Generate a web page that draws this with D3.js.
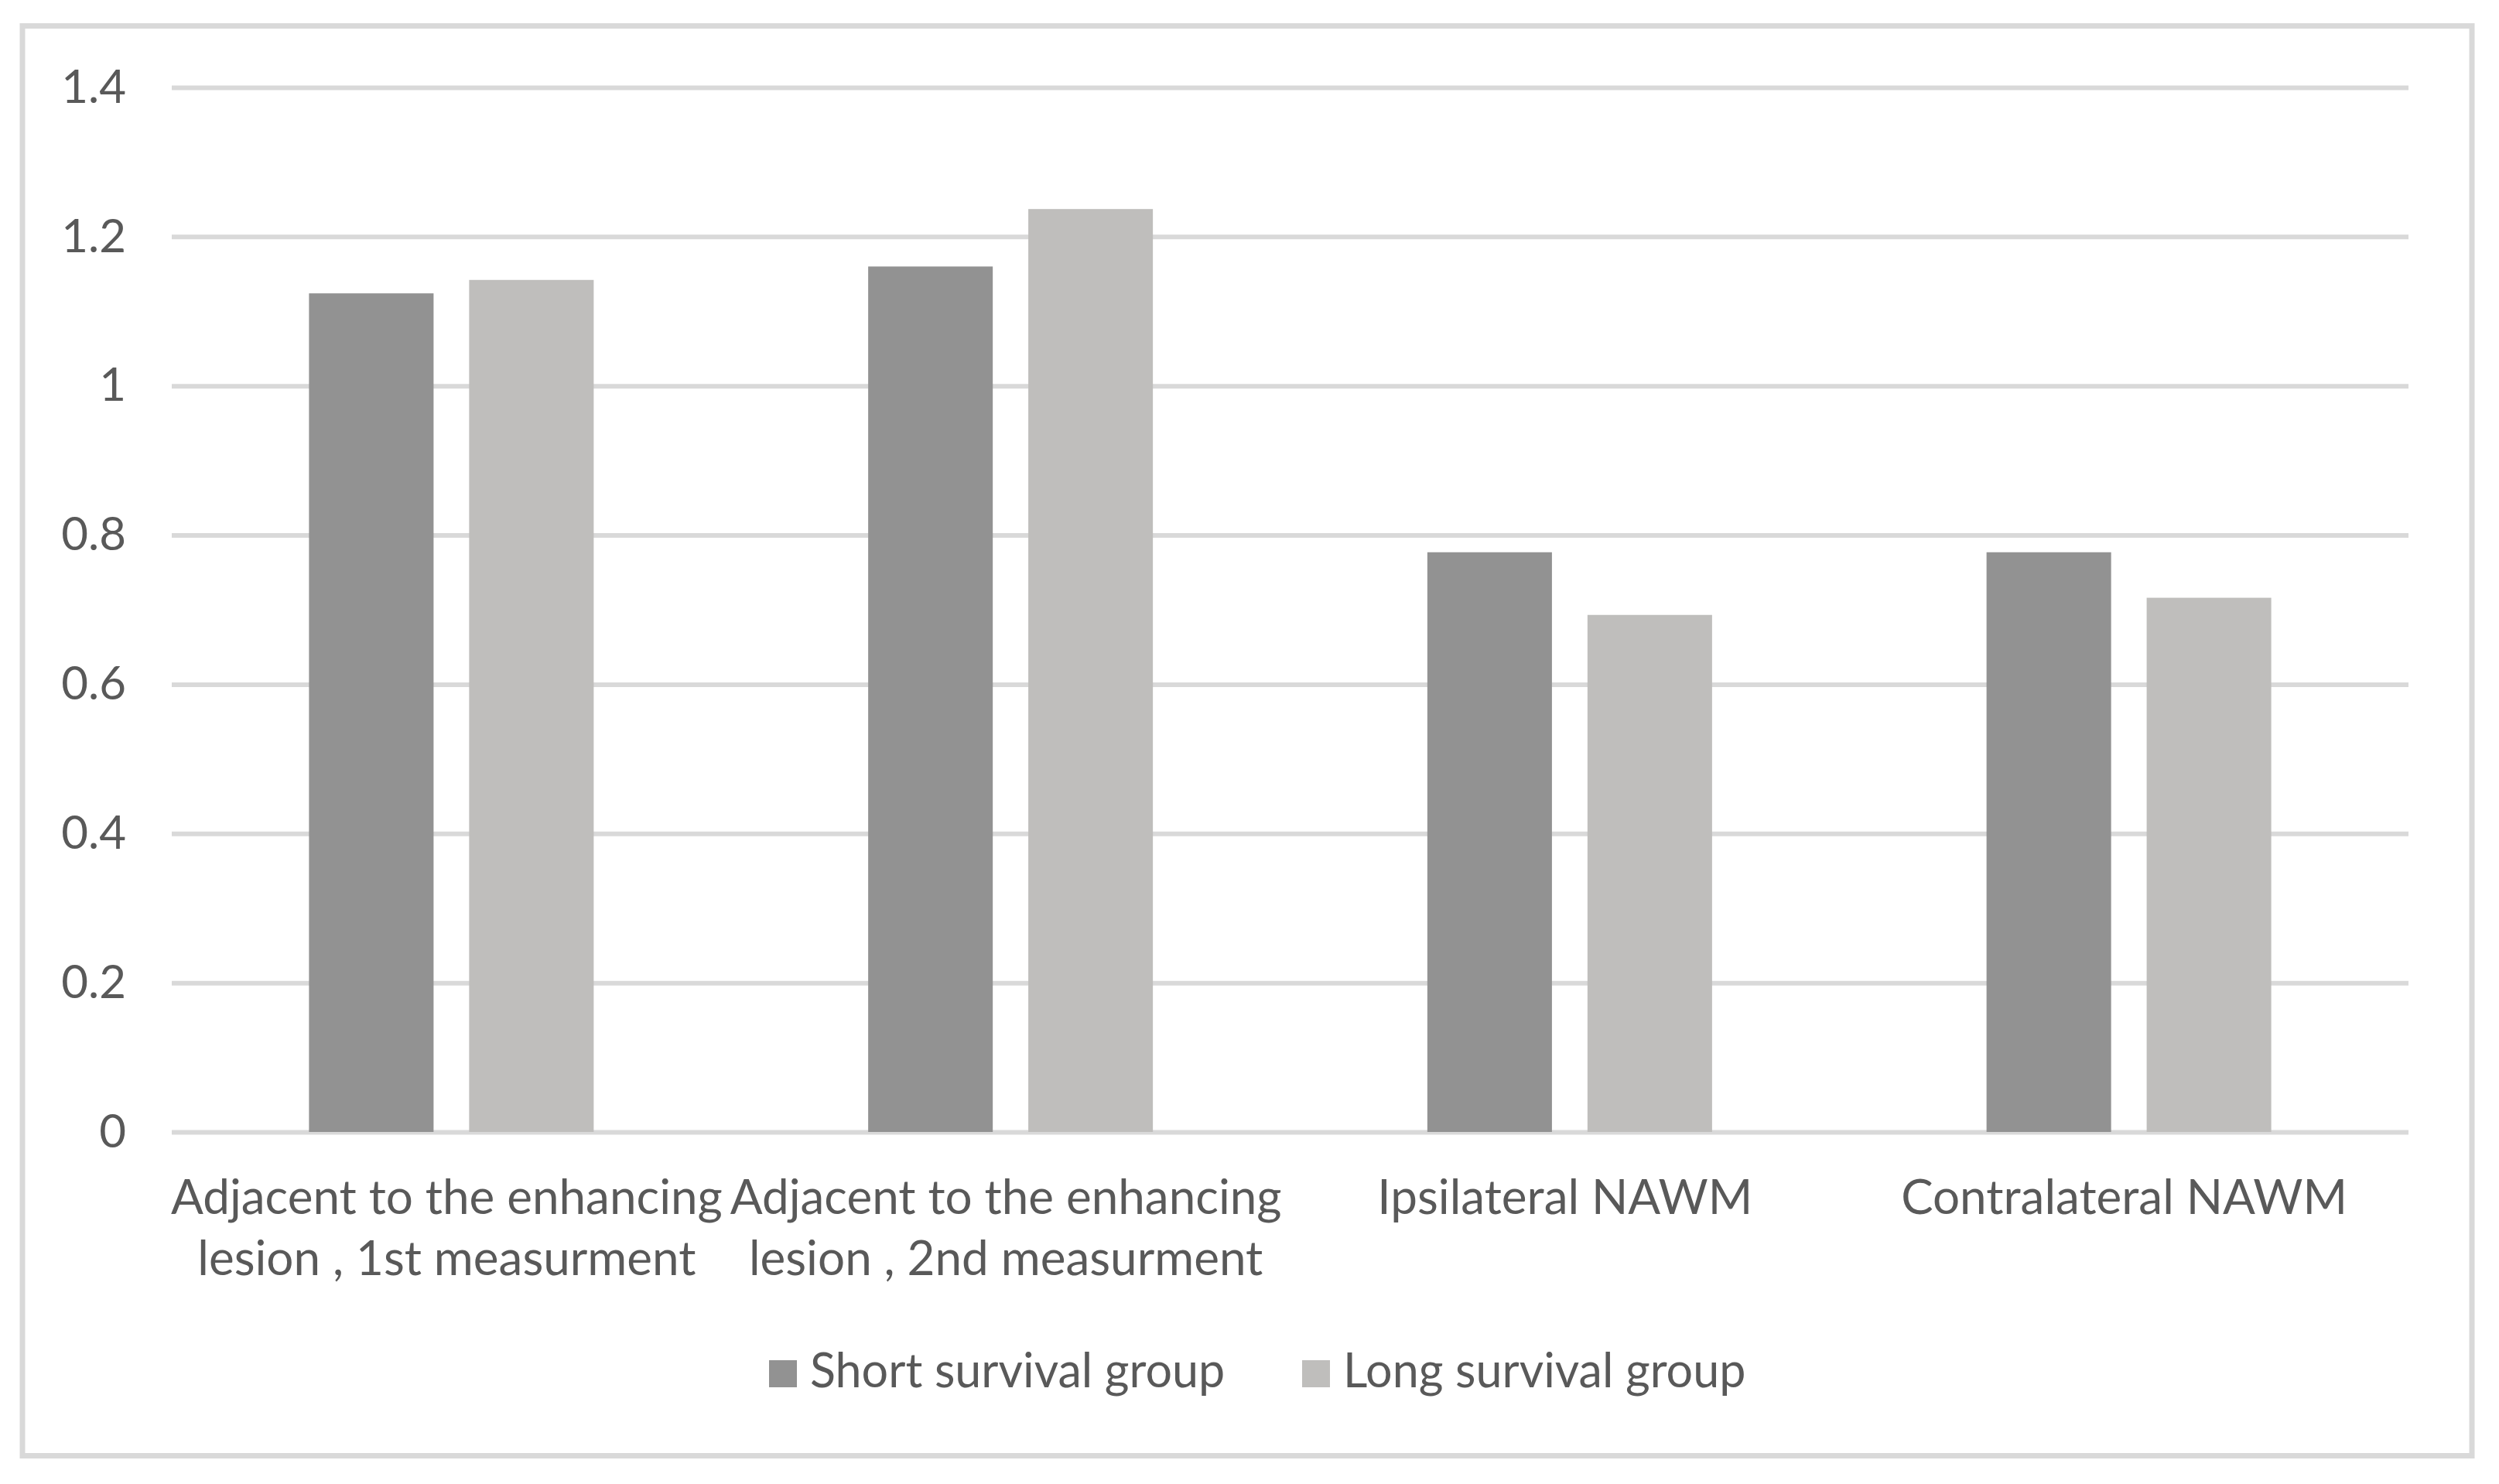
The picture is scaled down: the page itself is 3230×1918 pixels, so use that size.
<!DOCTYPE html>
<html>
<head>
<meta charset="utf-8">
<script src="https://cdn.jsdelivr.net/npm/d3@7"></script>
<style>
  html, body { margin: 0; padding: 0; background: #fff; }
  svg text { font-family: Lato, "Open Sans", sans-serif; fill: #595959; }
</style>
</head>
<body>
<svg id="chart" width="3230" height="1918"></svg>
<script>
// data
const categories = ["adj1", "adj2", "ipsi", "contra"];
const categoryLabels = [
  ["Adjacent to the enhancing", "lesion , 1st measurment"],
  ["Adjacent to the enhancing", "lesion , 2nd measurment"],
  ["Ipsilateral NAWM"],
  ["Contralateral NAWM"]
];
const seriesNames = ["Short survival group", "Long survival group"];
const shortSurvival = [1.124, 1.160, 0.777, 0.777];
const longSurvival = [1.142, 1.237, 0.693, 0.716];
const yTicks = [0, 0.2, 0.4, 0.6, 0.8, 1, 1.2, 1.4];
const yTickLabels = ["0", "0.2", "0.4", "0.6", "0.8", "1", "1.2", "1.4"];
const colors = ["#929292", "#bfbebc"];

const svg = d3.select("#chart");
const plot = { left: 222, right: 3113, top: 113, bottom: 1463 };

// outer frame
svg.append("rect")
  .attr("x", 29).attr("y", 33.5)
  .attr("width", 3166).attr("height", 1848)
  .attr("fill", "#fff")
  .attr("stroke", "#d9d9d9")
  .attr("stroke-width", 7);

const x0 = d3.scaleBand().domain(categories).range([plot.left, plot.right]).padding(0);
const x1 = d3.scaleBand().domain(seriesNames).range([0, x0.bandwidth()])
  .paddingInner(0.222).paddingOuter(0.857);
const y = d3.scaleLinear().domain([0, 1.4]).range([plot.bottom, plot.top]);

// gridlines + y labels
const yAxis = svg.append("g")
  .attr("transform", `translate(${plot.left},0)`)
  .call(d3.axisLeft(y)
    .tickValues(yTicks)
    .tickSize(-(plot.right - plot.left))
    .tickPadding(59)
    .tickFormat((d, i) => yTickLabels[i]));
yAxis.select(".domain").remove();
yAxis.selectAll(".tick line").attr("stroke", "#d9d9d9").attr("stroke-width", 6);
yAxis.selectAll(".tick text")
  .attr("font-size", 60)
  .attr("fill", "#595959")
  .style("font-family", "Lato, 'Open Sans', sans-serif");

// bars
const rows = categories.map((c, i) => ({ cat: c, vals: [shortSurvival[i], longSurvival[i]] }));
const grp = svg.append("g").selectAll("g")
  .data(rows).enter().append("g")
  .attr("transform", d => `translate(${x0(d.cat)},0)`);

grp.selectAll("rect")
  .data(d => d.vals.map((v, j) => ({ name: seriesNames[j], v, j })))
  .enter().append("rect")
  .attr("x", d => x1(d.name))
  .attr("width", x1.bandwidth())
  .attr("y", d => y(d.v))
  .attr("height", d => y(0) - y(d.v))
  .attr("fill", d => colors[d.j]);

// category labels
const lab = svg.append("g").selectAll("text")
  .data(categories).enter().append("text")
  .attr("x", d => x0(d) + x0.bandwidth() / 2 - 6)
  .attr("y", 1569)
  .attr("text-anchor", "middle")
  .attr("font-size", 62);
lab.each(function(d, i) {
  const t = d3.select(this);
  categoryLabels[i].forEach((line, k) => {
    t.append("tspan")
      .attr("x", x0(d) + x0.bandwidth() / 2 - 6)
      .attr("dy", k === 0 ? 0 : 79)
      .text(line);
  });
});

// legend
const legend = svg.append("g").attr("transform", "translate(0,1793)");
const legX = [994, 1683];
seriesNames.forEach((name, i) => {
  legend.append("rect")
    .attr("x", legX[i]).attr("y", -35)
    .attr("width", 36).attr("height", 35)
    .attr("fill", colors[i]);
  legend.append("text")
    .attr("x", legX[i] + 53).attr("y", 0)
    .attr("font-size", 61)
    .text(name);
});
</script>
</body>
</html>
